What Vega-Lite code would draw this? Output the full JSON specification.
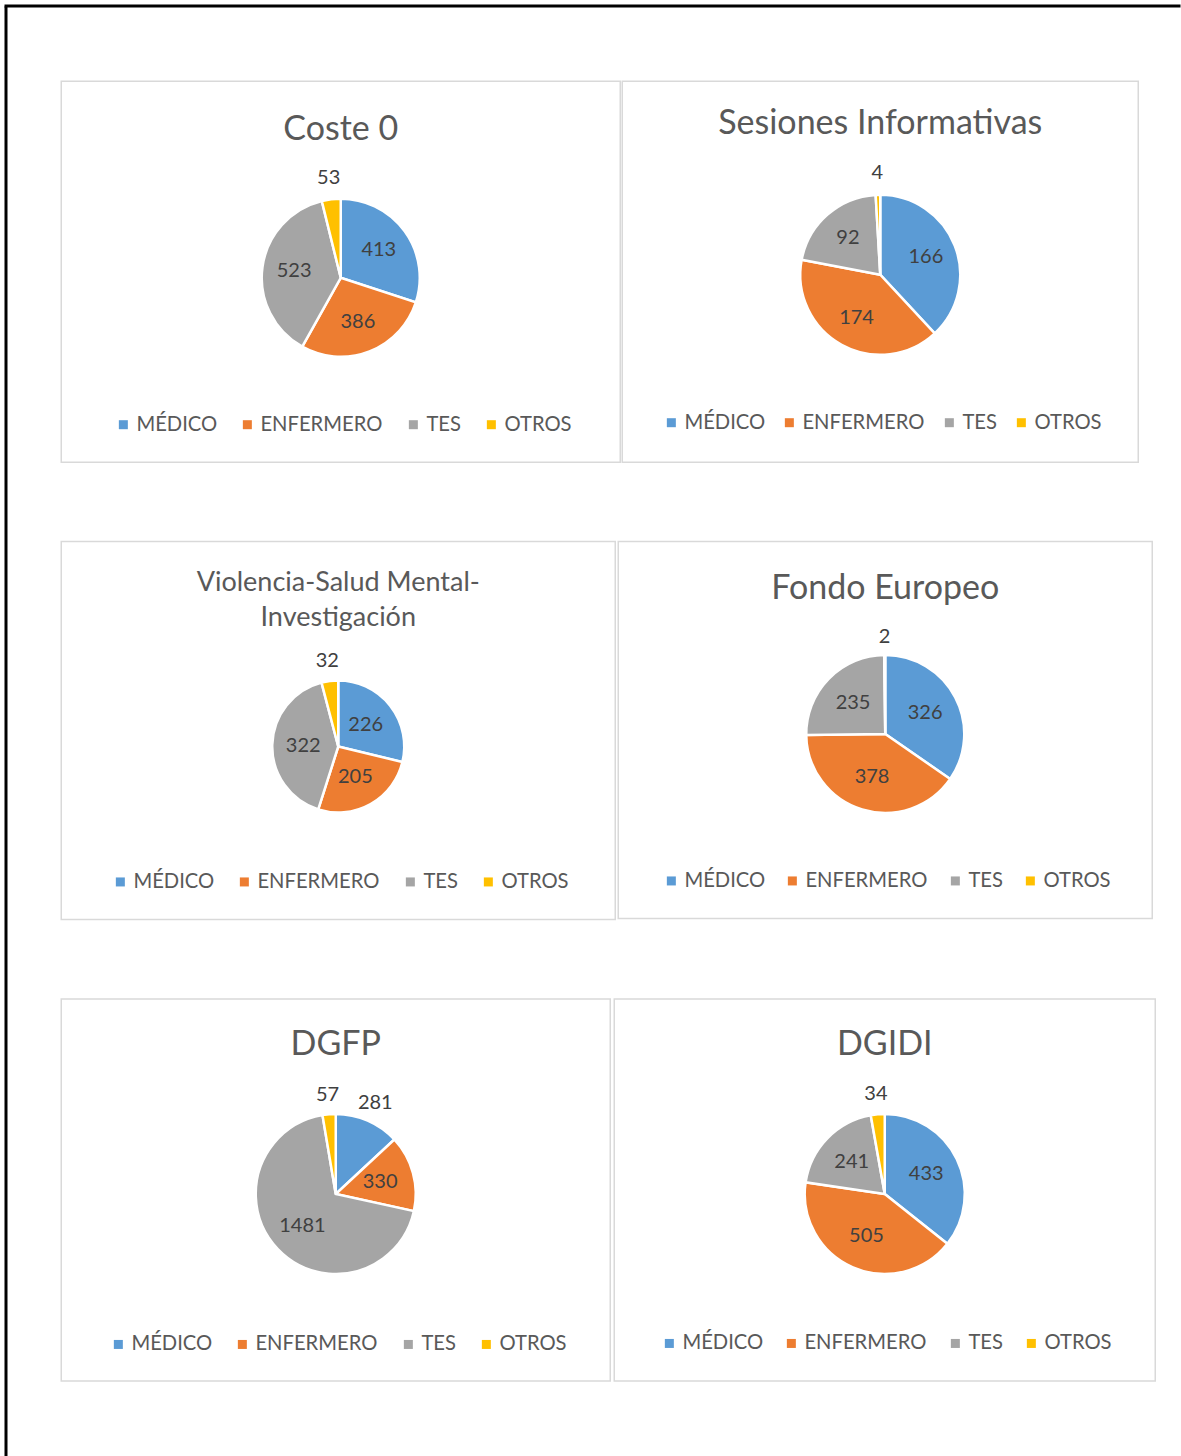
{
  "$schema": "https://vega.github.io/schema/vega-lite/v6.json",
  "padding": {"left": 4, "top": 4, "right": 0, "bottom": 0},
  "background": "white",
  "spacing": -3,
  "resolve": {"scale": {"theta": "independent", "color": "independent"}, "legend": {"color": "independent"}},
  "config": {
    "font": "Lato",
    "view": {"stroke": "#d9d9d9", "strokeWidth": 1.5},
    "title": {"font": "Lato", "fontSize": 34, "fontWeight": "normal", "color": "#595959", "anchor": "middle", "baseline": "alphabetic"},
    "legend": {"orient": "none", "direction": "horizontal", "title": null, "padding": 0, "symbolType": "square", "symbolSize": 81, "symbolStrokeWidth": 0, "labelFont": "Lato", "labelFontSize": 20.2, "labelColor": "#595959", "labelOffset": 3, "columnPadding": 20, "labelLimit": 300}
  },
  "vconcat": [
    {
      "width": 1173, "height": 0.001,
      "view": {"stroke": "black", "strokeWidth": 3},
      "data": {"values": []},
      "mark": "point",
      "encoding": {}
    },
    {
      "spacing": 52.25,
      "resolve": {"scale": {"theta": "independent", "color": "independent"}, "legend": {"color": "independent"}},
      "hconcat": [
        {
          "width": 0.001, "height": 1448,
          "view": {"stroke": "black", "strokeWidth": 3},
          "data": {"values": []},
          "mark": "point",
          "encoding": {}
        },
        {
          "spacing": 77.5,
          "resolve": {"scale": {"theta": "independent", "color": "independent"}, "legend": {"color": "independent"}},
          "vconcat": [
            {
              "spacing": 71.25,
              "resolve": {"scale": {"theta": "independent", "color": "independent"}, "legend": {"color": "independent"}},
              "vconcat": [
                {
                  "width": 10, "height": 0.001,
                  "view": {"stroke": null, "fill": "white"},
                  "data": {"values": []},
                  "mark": "point",
                  "encoding": {}
                },
                {
                  "bounds": "flush",
                  "spacing": 2,
                  "resolve": {"scale": {"theta": "independent", "color": "independent"}, "legend": {"color": "independent"}},
                  "hconcat": [
                    {
                      "width": 559, "height": 381,
                      "view": {"stroke": "#d9d9d9", "strokeWidth": 1.5},
                      "title": {"text": "Coste 0", "offset": -66},
                      "data": {"values": [
                        {"cat": "MÉDICO", "value": 413},
                        {"cat": "ENFERMERO", "value": 386},
                        {"cat": "TES", "value": 523},
                        {"cat": "OTROS", "value": 53}
                      ]},
                      "transform": [{"calculate": "indexof(['MÉDICO','ENFERMERO','TES','OTROS'], datum.cat)", "as": "k"}],
                      "encoding": {
                        "theta": {"field": "value", "type": "quantitative", "stack": true},
                        "order": {"field": "k", "type": "quantitative"}
                      },
                      "layer": [
                        {
                          "mark": {"type": "arc", "outerRadius": 79, "stroke": "white", "strokeWidth": 2.5, "yOffset": 6},
                          "encoding": {
                            "color": {"field": "cat", "type": "nominal",
                              "scale": {"domain": ["MÉDICO", "ENFERMERO", "TES", "OTROS"], "range": ["#5B9BD5", "#ED7D31", "#A5A5A5", "#FFC000"]},
                              "legend": {"legendX": 52, "legendY": 333, "columnPadding": 20}}
                          }
                        },
                        {
                          "mark": {"type": "text", "radius": 47, "yOffset": 6, "fontSize": 20, "color": "#404040"},
                          "encoding": {
                            "detail": {"field": "cat"},
                            "text": {"field": "value", "type": "quantitative"},
                            "opacity": {"condition": {"test": "datum.cat == 'OTROS'", "value": 0}, "value": 1}
                          }
                        },
                        {
                          "mark": {"type": "text", "radius": 100, "yOffset": 6, "fontSize": 20, "color": "#404040"},
                          "encoding": {
                            "detail": {"field": "cat"},
                            "text": {"field": "value", "type": "quantitative"},
                            "opacity": {"condition": {"test": "datum.cat == 'OTROS'", "value": 1}, "value": 0}
                          }
                        }
                      ]
                    },
                    {
                      "width": 516, "height": 381,
                      "view": {"stroke": "#d9d9d9", "strokeWidth": 1.5},
                      "title": {"text": "Sesiones Informativas", "offset": -60},
                      "data": {"values": [
                        {"cat": "MÉDICO", "value": 166},
                        {"cat": "ENFERMERO", "value": 174},
                        {"cat": "TES", "value": 92},
                        {"cat": "OTROS", "value": 4}
                      ]},
                      "transform": [{"calculate": "indexof(['MÉDICO','ENFERMERO','TES','OTROS'], datum.cat)", "as": "k"}],
                      "encoding": {
                        "theta": {"field": "value", "type": "quantitative", "stack": true},
                        "order": {"field": "k", "type": "quantitative"}
                      },
                      "layer": [
                        {
                          "mark": {"type": "arc", "outerRadius": 80, "stroke": "white", "strokeWidth": 2.5, "yOffset": 3},
                          "encoding": {
                            "color": {"field": "cat", "type": "nominal",
                              "scale": {"domain": ["MÉDICO", "ENFERMERO", "TES", "OTROS"], "range": ["#5B9BD5", "#ED7D31", "#A5A5A5", "#FFC000"]},
                              "legend": {"legendX": 39, "legendY": 331, "columnPadding": 14}}
                          }
                        },
                        {
                          "mark": {"type": "text", "radius": 49, "yOffset": 3, "fontSize": 20, "color": "#404040"},
                          "encoding": {
                            "detail": {"field": "cat"},
                            "text": {"field": "value", "type": "quantitative"},
                            "opacity": {"condition": {"test": "datum.cat == 'OTROS'", "value": 0}, "value": 1}
                          }
                        },
                        {
                          "mark": {"type": "text", "radius": 102, "yOffset": 3, "fontSize": 20, "color": "#404040"},
                          "encoding": {
                            "detail": {"field": "cat"},
                            "text": {"field": "value", "type": "quantitative"},
                            "opacity": {"condition": {"test": "datum.cat == 'OTROS'", "value": 1}, "value": 0}
                          }
                        }
                      ]
                    }
                  ]
                }
              ]
            },
            {
              "bounds": "flush",
              "spacing": 3,
              "resolve": {"scale": {"theta": "independent", "color": "independent"}, "legend": {"color": "independent"}},
              "hconcat": [
                {
                  "width": 554, "height": 378,
                  "view": {"stroke": "#d9d9d9", "strokeWidth": 1.5},
                  "title": {"text": ["Violencia-Salud Mental-", "Investigación"], "offset": -90, "fontSize": 27, "lineHeight": 35},
                  "data": {"values": [
                    {"cat": "MÉDICO", "value": 226},
                    {"cat": "ENFERMERO", "value": 205},
                    {"cat": "TES", "value": 322},
                    {"cat": "OTROS", "value": 32}
                  ]},
                  "transform": [{"calculate": "indexof(['MÉDICO','ENFERMERO','TES','OTROS'], datum.cat)", "as": "k"}],
                  "encoding": {
                    "theta": {"field": "value", "type": "quantitative", "stack": true},
                    "order": {"field": "k", "type": "quantitative"}
                  },
                  "layer": [
                    {
                      "mark": {"type": "arc", "outerRadius": 66, "stroke": "white", "strokeWidth": 2.5, "yOffset": 16},
                      "encoding": {
                        "color": {"field": "cat", "type": "nominal",
                          "scale": {"domain": ["MÉDICO", "ENFERMERO", "TES", "OTROS"], "range": ["#5B9BD5", "#ED7D31", "#A5A5A5", "#FFC000"]},
                          "legend": {"legendX": 49, "legendY": 330, "columnPadding": 20}}
                      }
                    },
                    {
                      "mark": {"type": "text", "radius": 35, "yOffset": 16, "fontSize": 20, "color": "#404040"},
                      "encoding": {
                        "detail": {"field": "cat"},
                        "text": {"field": "value", "type": "quantitative"},
                        "opacity": {"condition": {"test": "datum.cat == 'OTROS'", "value": 0}, "value": 1}
                      }
                    },
                    {
                      "mark": {"type": "text", "radius": 86, "yOffset": 16, "fontSize": 20, "color": "#404040"},
                      "encoding": {
                        "detail": {"field": "cat"},
                        "text": {"field": "value", "type": "quantitative"},
                        "opacity": {"condition": {"test": "datum.cat == 'OTROS'", "value": 1}, "value": 0}
                      }
                    }
                  ]
                },
                {
                  "width": 534, "height": 377,
                  "view": {"stroke": "#d9d9d9", "strokeWidth": 1.5},
                  "title": {"text": "Fondo Europeo", "offset": -64},
                  "data": {"values": [
                    {"cat": "MÉDICO", "value": 326},
                    {"cat": "ENFERMERO", "value": 378},
                    {"cat": "TES", "value": 235},
                    {"cat": "OTROS", "value": 2}
                  ]},
                  "transform": [{"calculate": "indexof(['MÉDICO','ENFERMERO','TES','OTROS'], datum.cat)", "as": "k"}],
                  "encoding": {
                    "theta": {"field": "value", "type": "quantitative", "stack": true},
                    "order": {"field": "k", "type": "quantitative"}
                  },
                  "layer": [
                    {
                      "mark": {"type": "arc", "outerRadius": 79, "stroke": "white", "strokeWidth": 2.5, "yOffset": 4},
                      "encoding": {
                        "color": {"field": "cat", "type": "nominal",
                          "scale": {"domain": ["MÉDICO", "ENFERMERO", "TES", "OTROS"], "range": ["#5B9BD5", "#ED7D31", "#A5A5A5", "#FFC000"]},
                          "legend": {"legendX": 43, "legendY": 329, "columnPadding": 17}}
                      }
                    },
                    {
                      "mark": {"type": "text", "radius": 45, "yOffset": 4, "fontSize": 20, "color": "#404040"},
                      "encoding": {
                        "detail": {"field": "cat"},
                        "text": {"field": "value", "type": "quantitative"},
                        "opacity": {"condition": {"test": "datum.cat == 'OTROS'", "value": 0}, "value": 1}
                      }
                    },
                    {
                      "mark": {"type": "text", "radius": 97, "yOffset": 4, "fontSize": 20, "color": "#404040"},
                      "encoding": {
                        "detail": {"field": "cat"},
                        "text": {"field": "value", "type": "quantitative"},
                        "opacity": {"condition": {"test": "datum.cat == 'OTROS'", "value": 1}, "value": 0}
                      }
                    }
                  ]
                }
              ]
            },
            {
              "bounds": "flush",
              "spacing": 4,
              "resolve": {"scale": {"theta": "independent", "color": "independent"}, "legend": {"color": "independent"}},
              "hconcat": [
                {
                  "width": 549, "height": 382,
                  "view": {"stroke": "#d9d9d9", "strokeWidth": 1.5},
                  "title": {"text": "DGFP", "offset": -63},
                  "data": {"values": [
                    {"cat": "MÉDICO", "value": 281},
                    {"cat": "ENFERMERO", "value": 330},
                    {"cat": "TES", "value": 1481},
                    {"cat": "OTROS", "value": 57}
                  ]},
                  "transform": [{"calculate": "indexof(['MÉDICO','ENFERMERO','TES','OTROS'], datum.cat)", "as": "k"}],
                  "encoding": {
                    "theta": {"field": "value", "type": "quantitative", "stack": true},
                    "order": {"field": "k", "type": "quantitative"}
                  },
                  "layer": [
                    {
                      "mark": {"type": "arc", "outerRadius": 80, "stroke": "white", "strokeWidth": 2.5, "yOffset": 4},
                      "encoding": {
                        "color": {"field": "cat", "type": "nominal",
                          "scale": {"domain": ["MÉDICO", "ENFERMERO", "TES", "OTROS"], "range": ["#5B9BD5", "#ED7D31", "#A5A5A5", "#FFC000"]},
                          "legend": {"legendX": 47, "legendY": 335, "columnPadding": 20}}
                      }
                    },
                    {
                      "mark": {"type": "text", "radius": 46, "yOffset": 4, "fontSize": 20, "color": "#404040"},
                      "encoding": {
                        "detail": {"field": "cat"},
                        "text": {"field": "value", "type": "quantitative"},
                        "opacity": {"condition": {"test": "datum.cat == 'OTROS' || datum.cat == 'MÉDICO'", "value": 0}, "value": 1}
                      }
                    },
                    {
                      "mark": {"type": "text", "radius": 99, "yOffset": 4, "fontSize": 20, "color": "#404040"},
                      "encoding": {
                        "detail": {"field": "cat"},
                        "text": {"field": "value", "type": "quantitative"},
                        "opacity": {"condition": {"test": "datum.cat == 'OTROS' || datum.cat == 'MÉDICO'", "value": 1}, "value": 0}
                      }
                    }
                  ]
                },
                {
                  "width": 541, "height": 382,
                  "view": {"stroke": "#d9d9d9", "strokeWidth": 1.5},
                  "title": {"text": "DGIDI", "offset": -63},
                  "data": {"values": [
                    {"cat": "MÉDICO", "value": 433},
                    {"cat": "ENFERMERO", "value": 505},
                    {"cat": "TES", "value": 241},
                    {"cat": "OTROS", "value": 34}
                  ]},
                  "transform": [{"calculate": "indexof(['MÉDICO','ENFERMERO','TES','OTROS'], datum.cat)", "as": "k"}],
                  "encoding": {
                    "theta": {"field": "value", "type": "quantitative", "stack": true},
                    "order": {"field": "k", "type": "quantitative"}
                  },
                  "layer": [
                    {
                      "mark": {"type": "arc", "outerRadius": 80, "stroke": "white", "strokeWidth": 2.5, "yOffset": 4},
                      "encoding": {
                        "color": {"field": "cat", "type": "nominal",
                          "scale": {"domain": ["MÉDICO", "ENFERMERO", "TES", "OTROS"], "range": ["#5B9BD5", "#ED7D31", "#A5A5A5", "#FFC000"]},
                          "legend": {"legendX": 45, "legendY": 334, "columnPadding": 18}}
                      }
                    },
                    {
                      "mark": {"type": "text", "radius": 46, "yOffset": 4, "fontSize": 20, "color": "#404040"},
                      "encoding": {
                        "detail": {"field": "cat"},
                        "text": {"field": "value", "type": "quantitative"},
                        "opacity": {"condition": {"test": "datum.cat == 'OTROS'", "value": 0}, "value": 1}
                      }
                    },
                    {
                      "mark": {"type": "text", "radius": 100, "yOffset": 4, "fontSize": 20, "color": "#404040"},
                      "encoding": {
                        "detail": {"field": "cat"},
                        "text": {"field": "value", "type": "quantitative"},
                        "opacity": {"condition": {"test": "datum.cat == 'OTROS'", "value": 1}, "value": 0}
                      }
                    }
                  ]
                }
              ]
            }
          ]
        }
      ]
    }
  ]
}
